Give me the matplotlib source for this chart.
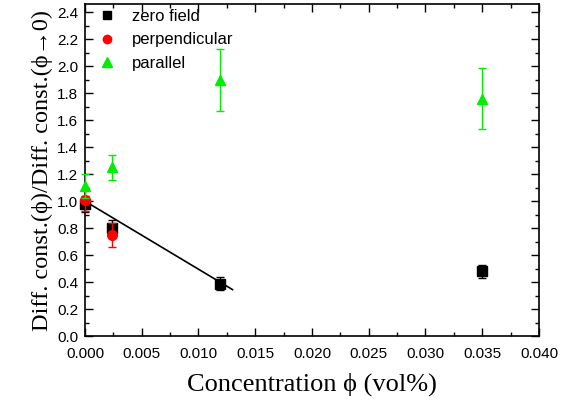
import matplotlib
matplotlib.use("Agg")
import matplotlib.pyplot as plt
from matplotlib.lines import Line2D
from matplotlib.ticker import MultipleLocator

# data
phi_zero = [0.0, 0.00235, 0.0119, 0.035]
d_zero = [0.98, 0.80, 0.39, 0.48]
e_zero = [0.06, 0.06, 0.045, 0.05]

phi_perp = [0.0, 0.00235]
d_perp = [1.01, 0.75]
e_perp = [0.08, 0.09]

phi_par = [0.0, 0.00235, 0.0119, 0.035]
d_par = [1.11, 1.25, 1.90, 1.76]
e_par = [0.09, 0.09, 0.23, 0.225]

fit_x = [0.0, 0.013]
fit_y = [1.0, 0.345]

sans = ["Liberation Sans", "DejaVu Sans"]
serif = ["Liberation Serif", "DejaVu Serif"]

fig = plt.figure(figsize=(5.74, 4.07), dpi=100)
ax = fig.add_axes([0.148, 0.174, 0.791, 0.816])

green = "#00ee00"
series = [
    (phi_zero, d_zero, e_zero, "s", "black", 6.5, "zero field"),
    (phi_perp, d_perp, e_perp, "o", "red", 7, "perpendicular"),
    (phi_par, d_par, e_par, "^", green, 7.5, "parallel"),
]

ax.plot(fit_x, fit_y, color="black", lw=1.2, zorder=2)
handles = []
for z, (x, y, e, m, c, ms, lab) in enumerate(series):
    ax.errorbar(x, y, yerr=e, fmt=m, color=c, ms=ms, capsize=3,
                elinewidth=1, clip_on=False, zorder=3 + z)
    handles.append(Line2D([], [], ls="none", marker=m, color=c, ms=ms - 1, label=lab))

ax.set_xlim(0, 0.04)
ax.set_ylim(0, 2.46)
ax.xaxis.set_major_locator(MultipleLocator(0.005))
ax.xaxis.set_minor_locator(MultipleLocator(0.0025))
ax.yaxis.set_major_locator(MultipleLocator(0.2))
ax.yaxis.set_minor_locator(MultipleLocator(0.1))
ax.xaxis.set_major_formatter(plt.FuncFormatter(lambda v, p: f"{v:.3f}"))
ax.yaxis.set_major_formatter(plt.FuncFormatter(lambda v, p: f"{v:.1f}"))
ax.tick_params(which="both", direction="in", top=True, right=True, width=1)
ax.tick_params(which="major", length=6, labelsize=11)
ax.tick_params(axis="x", which="major", pad=8)
ax.tick_params(axis="y", which="major", pad=5)
ax.tick_params(which="minor", length=3)
for lab in ax.get_xticklabels() + ax.get_yticklabels():
    lab.set_family(sans)
for s in ax.spines.values():
    s.set_linewidth(1.2)

ax.set_xlabel("Concentration \u03d5 (vol%)", family=serif, fontsize=19, labelpad=8)
ax.set_ylabel("Diff. const.(\u03d5)/Diff. const.(\u03d5\u21920)", family=serif,
              fontsize=17.5, labelpad=3)

ax.legend(handles=handles, loc="upper left", frameon=False,
          prop={"family": sans, "size": 12}, handletextpad=0.5,
          labelspacing=0.5, borderaxespad=0.1, borderpad=0.2,
          handlelength=2.0)

fig.savefig("out.png", dpi=100)
